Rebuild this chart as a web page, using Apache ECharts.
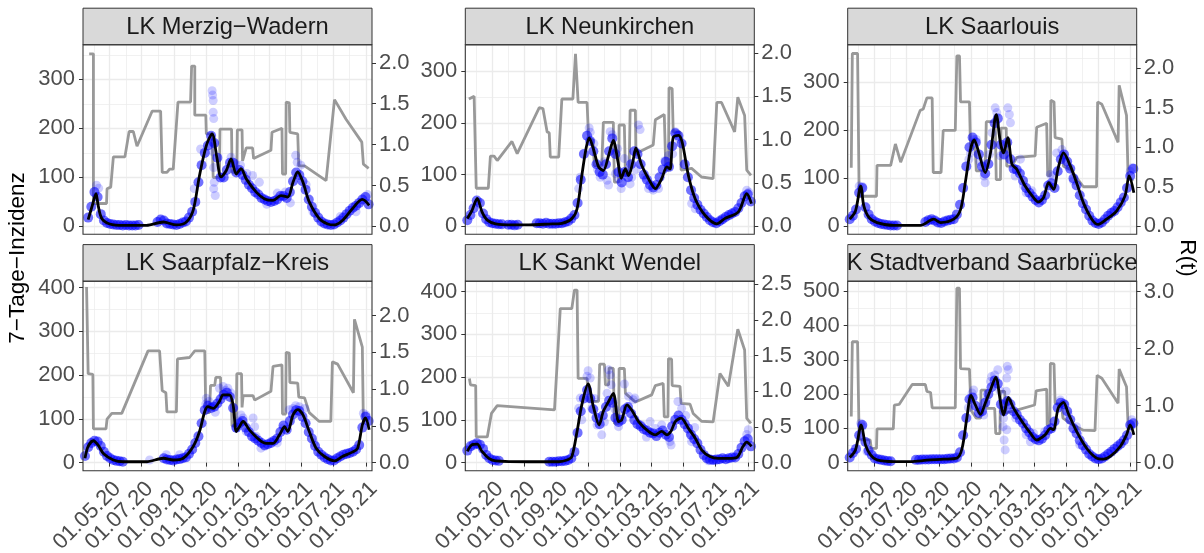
<!DOCTYPE html>
<html>
<head>
<meta charset="utf-8">
<script src="https://cdn.jsdelivr.net/npm/echarts@6.0.0/dist/echarts.min.js"></script>
<style>
  html, body { margin: 0; padding: 0; background: #fff; }
  #chart { width: 1204px; height: 553px; }
</style>
</head>
<body>
<div id="chart"></div>
<script>
// x positions are days since 01.03.2020
const xTickDays = [61, 122, 184, 245, 306, 365, 426, 487, 549];
const xTickLabels = ['01.05.20', '01.07.20', '01.09.20', '01.11.20', '01.01.21', '01.03.21', '01.05.21', '01.07.21', '01.09.21'];
const xMinorDays = [31, 92, 153, 214, 275, 337, 396, 457, 518];

const facetNames = ['LK Merzig−Wadern', 'LK Neunkirchen', 'LK Saarlouis',
  'LK Saarpfalz−Kreis', 'LK Sankt Wendel', 'LK Stadtverband Saarbrücken'];

const yTicks = [[0, 100, 200, 300], [0, 100, 200, 300], [0, 100, 200, 300],
  [0, 100, 200, 300, 400], [0, 100, 200, 300, 400], [0, 100, 200, 300, 400, 500]];
const yMinor = [[50, 150, 250, 350], [50, 150, 250, 350], [50, 150, 250, 350],
  [50, 150, 250, 350], [50, 150, 250, 350], [50, 150, 250, 350, 450]];
const rTicks = [[0, 0.5, 1, 1.5, 2], [0, 0.5, 1, 1.5, 2], [0, 0.5, 1, 1.5, 2],
  [0, 0.5, 1, 1.5, 2], [0, 0.5, 1, 1.5, 2, 2.5], [0, 1, 2, 3]];

// 7-Tage-Inzidenz read every 6 days (null = no point drawn)
const mzwStart = 20;
const mzwPts = [18,40,70,60,25,12,7,5,4,3,3,2,3,2,2,2,3,null,null,null,null,null,9,14,12,6,5,4,3,5,8,10,18,30,50,90,125,150,165,185,170,140,100,100,115,130,130,110,115,105,95,85,78,70,65,58,55,52,50,52,55,62,62,58,70,92,110,105,92,75,55,40,28,18,10,6,4,3,4,8,12,18,25,32,38,42,48,55,60,45];
const mzwOut = [[256,277],[257,268],[258,257],[258,233],[259,220],[257,172],[258,152],[259,120],[260,90],[259,77],[262,63],[234,158],[222,77],[292,141],[333,104],[346,90],[415,145],[418,131],[36,84],[40,78],[300,128],[310,125],[322,108],[360,45],[380,68],[395,70],[405,48],[425,125],[435,85],[448,30],[500,20],[530,30],[552,65]];
const mzwFit = [[20,14],[28,43],[35,67],[39,43],[46,16],[61,5],[87,2],[131,2],[163,9],[188,3],[207,9],[220,33],[232,104],[245,165],[256,189],[265,141],[273,101],[283,114],[292,138],[302,107],[311,118],[321,97],[340,70],[356,56],[372,53],[387,63],[400,60],[410,90],[419,111],[429,90],[441,50],[460,16],[476,5],[489,3],[504,12],[523,36],[542,55],[555,43]];
const mzwR = [[22,2.11],[30,2.11],[30,0.28],[55,0.28],[56,0.46],[63,0.48],[68,0.85],[90,0.85],[98,1.16],[106,1.16],[113,0.98],[142,1.41],[158,1.41],[161,0.66],[170,0.66],[175,0.70],[182,0.70],[191,1.52],[215,1.52],[217,1.96],[223,1.96],[223,1.36],[244,1.36],[245,1.13],[256,1.13],[258,0.60],[270,0.60],[271,1.19],[293,1.19],[294,0.66],[303,0.66],[304,1.18],[313,1.18],[314,0.80],[321,0.96],[333,0.96],[335,0.83],[368,0.93],[370,1.15],[389,1.20],[390,0.64],[396,0.64],[397,1.52],[403,1.51],[404,1.15],[419,1.13],[421,0.74],[432,0.74],[473,0.56],[476,0.56],[489,1.55],[511,1.31],[541,1.03],[544,0.76],[554,0.71]];

const nkStart = 14;
const nkPts = [12,22,35,50,45,25,14,8,6,5,4,4,null,3,3,2,3,null,null,null,null,null,6,6,5,7,5,5,5,6,6,8,10,15,22,45,90,140,175,165,145,120,105,100,120,145,170,140,105,85,105,95,120,145,140,120,100,90,80,75,80,95,110,125,115,155,180,175,160,120,95,70,55,42,32,25,18,12,8,6,10,14,18,22,25,28,35,45,58,62,48];
const nkOut = [[246,190],[248,182],[286,183],[290,177],[340,196],[343,187],[410,183],[417,169],[229,95],[226,73],[267,95],[280,89],[283,80],[307,73],[313,131],[324,82],[327,95],[359,73],[368,70],[378,73],[296,102],[302,92],[390,127],[397,137],[441,44],[448,34],[498,12],[514,21],[546,70],[550,66],[255,160],[262,110],[275,125],[300,150],[335,110],[352,95],[405,140]];
const nkFit = [[14,15],[23,31],[33,54],[42,28],[52,12],[68,5],[99,3],[131,3],[169,4.5],[194,6],[213,15],[223,34],[232,98],[240,150],[246,171],[254,150],[264,115],[273,108],[283,137],[292,166],[301,124],[307,93],[315,111],[321,98],[329,124],[335,151],[346,118],[359,92],[372,73],[384,92],[394,115],[400,111],[406,172],[416,176],[423,163],[435,98],[448,53],[467,21],[489,5],[504,15],[530,28],[546,63],[555,44]];
const nkR = [[17,1.47],[27,1.50],[30,1.50],[31,0.44],[54,0.44],[58,0.81],[65,0.81],[71,0.76],[99,0.98],[109,0.84],[151,1.37],[158,1.36],[166,1.09],[170,1.08],[172,0.80],[188,0.80],[194,1.47],[215,1.47],[220,1.99],[223,1.99],[225,1.43],[242,1.43],[245,1.01],[253,1.00],[256,0.70],[270,0.70],[273,1.20],[292,1.20],[294,0.51],[302,0.51],[303,1.17],[313,1.17],[315,0.59],[322,0.59],[324,1.34],[334,1.34],[335,0.84],[368,0.94],[372,1.23],[389,1.29],[392,0.65],[397,0.65],[398,1.60],[404,1.59],[406,1.09],[419,1.09],[421,0.65],[441,0.67],[460,0.57],[482,0.55],[489,1.43],[498,1.43],[523,1.09],[529,1.49],[542,1.28],[546,0.65],[554,0.59]];

const slStart = 14;
const slPts = [15,22,35,70,80,40,25,15,10,7,5,4,3,2,2,2,null,null,null,null,null,null,null,null,9,13,15,12,8,7,10,12,14,15,25,45,80,125,165,185,175,150,125,110,130,170,215,225,170,150,175,140,120,118,110,95,80,70,62,55,50,55,65,85,90,80,115,140,150,135,120,100,85,65,48,35,22,12,7,5,8,15,22,28,32,40,50,60,80,105,120];
const slOut = [[291,247],[294,237],[315,247],[318,233],[320,216],[285,195],[301,147],[272,91],[270,105],[250,181],[255,181],[339,140],[329,105],[350,70],[361,74],[408,153],[418,160],[421,147],[552,122],[548,115],[32,84],[38,83],[244,153],[241,140],[396,108],[401,105],[262,135],[280,150],[310,160],[345,85],[430,125],[440,95]];
const slFit = [[14,15],[25,32],[35,84],[41,42],[51,18],[66,8],[98,2],[149,2],[174,15],[187,8],[212,15],[225,35],[234,91],[244,160],[251,180],[260,153],[272,112],[282,153],[293,233],[301,174],[307,153],[315,185],[323,129],[332,119],[348,84],[364,60],[373,51],[383,60],[393,91],[402,77],[411,122],[421,153],[434,126],[446,91],[459,49],[475,15],[487,4],[503,15],[522,32],[538,63],[546,105],[555,70]];
const slR = [[17,0.74],[19,2.18],[29,2.18],[32,0.38],[65,0.38],[66,0.77],[92,0.77],[101,1.04],[111,0.81],[148,1.46],[154,1.48],[161,1.62],[171,1.62],[173,0.68],[188,0.68],[192,1.21],[215,1.21],[218,2.15],[223,2.15],[225,1.57],[242,1.57],[244,1.00],[253,0.98],[255,0.70],[272,0.70],[274,1.32],[291,1.32],[293,0.59],[301,0.59],[302,1.24],[312,1.24],[313,0.76],[323,0.76],[332,0.87],[367,0.89],[370,1.25],[389,1.30],[391,0.64],[396,0.64],[397,1.59],[403,1.57],[405,1.12],[418,1.10],[421,0.76],[434,0.72],[459,0.50],[484,0.50],[486,1.57],[494,1.54],[525,1.06],[527,1.78],[541,1.40],[544,0.64],[553,0.57]];

const spkStart = 14;
const spkPts = [15,35,45,50,48,38,25,15,10,6,4,3,2,null,null,null,null,null,null,null,null,null,null,null,null,10,7,6,5,7,8,10,12,20,30,45,60,90,120,130,125,128,135,145,155,160,150,125,80,90,95,80,70,60,55,50,45,40,42,45,50,55,70,85,75,95,110,120,118,105,90,70,55,38,25,18,12,8,5,5,10,14,18,20,22,25,30,40,80,105,95];
const spkOut = [[245,147],[244,134],[270,170],[277,174],[286,170],[292,159],[302,79],[311,109],[315,102],[321,71],[334,102],[337,82],[349,33],[356,37],[368,48],[391,79],[403,121],[410,124],[422,128],[432,124],[544,113],[549,109],[137,6],[169,18],[194,18],[250,140],[262,115],[282,165],[306,95],[340,60],[380,45],[415,130],[450,45]];
const spkFit = [[14,10],[20,37],[30,50],[39,40],[49,21],[68,6],[87,2],[131,2],[163,10],[182,6],[201,10],[220,37],[232,71],[242,117],[248,128],[258,124],[270,140],[277,155],[289,155],[296,132],[302,71],[308,82],[315,94],[327,75],[346,52],[359,44],[372,44],[384,63],[394,82],[400,71],[410,109],[419,121],[429,109],[441,71],[454,33],[470,14],[489,4],[504,14],[523,24],[533,33],[542,86],[548,102],[555,75]];
const spkR = [[17,2.39],[20,1.21],[29,1.20],[30,0.46],[54,0.46],[56,0.59],[65,0.67],[84,0.67],[134,1.52],[156,1.52],[161,0.98],[168,0.95],[170,0.69],[188,0.69],[190,1.41],[213,1.43],[223,1.52],[242,1.52],[244,0.68],[251,0.68],[253,1.05],[261,1.05],[263,1.16],[272,1.16],[273,0.91],[292,0.91],[294,0.50],[302,0.50],[303,1.21],[312,1.21],[313,0.75],[315,0.91],[334,0.91],[337,0.85],[368,0.97],[372,1.31],[389,1.33],[390,0.66],[396,0.66],[397,1.50],[403,1.49],[404,1.09],[419,1.08],[421,0.89],[432,0.88],[441,0.68],[460,0.56],[482,0.56],[485,1.37],[495,1.34],[525,0.95],[527,1.95],[542,1.57],[544,0.52]];

const wndStart = 14;
const wndPts = [28,38,42,45,42,32,18,10,6,5,4,null,null,null,null,null,null,null,null,null,null,null,null,null,null,null,2,2,2,3,3,4,6,10,25,70,120,150,170,150,125,105,90,110,130,145,140,105,95,100,125,130,115,100,90,85,78,75,70,68,62,70,75,65,60,85,100,110,100,90,80,65,55,45,30,18,10,7,6,7,8,10,8,10,12,12,20,35,50,55,38];
const wndOut = [[244,215],[242,202],[248,198],[283,217],[286,205],[288,182],[313,184],[280,162],[270,65],[261,88],[251,127],[229,151],[226,127],[302,84],[321,155],[330,147],[333,151],[346,88],[362,96],[384,88],[400,49],[402,41],[415,143],[422,127],[438,69],[447,82],[441,49],[549,77],[546,66],[473,4],[232,100],[256,150],[275,95],[295,125],[310,110],[355,60],[372,80],[430,110]];
const wndFit = [[14,26],[22,41],[33,43],[42,26],[55,10],[68,4],[131,2],[188,2],[204,6],[213,14],[223,73],[232,135],[244,184],[254,131],[265,88],[273,120],[283,143],[292,162],[302,96],[308,100],[318,135],[327,123],[340,96],[359,73],[372,65],[384,73],[394,65],[402,74],[410,96],[421,104],[435,80],[448,57],[460,30],[476,14],[492,10],[511,10],[527,12],[539,38],[546,48],[555,38]];
const wndR = [[18,1.18],[20,1.09],[30,1.08],[31,0.36],[52,0.36],[60,0.69],[65,0.74],[71,0.80],[180,0.74],[191,2.16],[213,2.16],[218,2.42],[223,2.42],[225,1.18],[242,1.18],[245,0.86],[264,0.86],[266,1.38],[275,1.38],[277,1.09],[283,1.09],[284,1.33],[292,1.32],[294,0.55],[302,0.55],[303,1.32],[313,1.32],[315,0.97],[334,0.85],[365,0.95],[372,1.08],[387,1.11],[389,0.64],[396,0.64],[397,1.46],[403,1.45],[404,1.08],[419,1.07],[421,0.83],[438,0.82],[444,0.69],[460,0.58],[482,0.57],[495,1.25],[511,1.07],[529,1.87],[542,1.58],[546,0.62],[554,0.55]];

const sbStart = 14;
const sbPts = [15,28,40,80,110,60,35,22,12,10,8,6,5,4,null,null,null,null,null,null,null,8,8,9,9,9,10,10,10,10,10,11,12,12,15,30,80,130,185,190,165,145,150,175,200,220,240,230,170,150,180,170,150,140,125,115,100,88,75,68,65,70,80,95,100,120,160,175,170,150,125,100,85,65,50,38,25,18,12,10,12,18,25,32,40,48,55,65,80,110,115];
const sbOut = [[314,281],[316,271],[313,247],[312,208],[310,173],[307,130],[306,105],[308,66],[310,37],[313,96],[296,271],[290,256],[284,251],[282,237],[250,212],[247,203],[263,154],[269,139],[350,81],[364,86],[358,61],[415,183],[424,169],[446,105],[452,52],[551,125],[549,105],[35,115],[38,105],[47,32],[240,160],[275,185],[300,210],[330,130],[385,90],[430,140]];
const sbFit = [[14,15],[25,37],[36,110],[44,52],[54,22],[66,8],[98,3],[130,3],[161,7],[193,10],[218,13],[228,42],[237,130],[245,196],[253,169],[263,141],[272,173],[282,212],[292,249],[301,178],[307,139],[316,190],[326,159],[342,120],[358,86],[370,66],[386,81],[396,100],[402,96],[411,159],[421,176],[430,144],[446,91],[465,42],[484,13],[497,10],[510,18],[529,47],[541,81],[548,110],[555,81]];
const sbR = [[17,0.81],[19,2.12],[29,2.12],[32,0.40],[53,0.40],[55,0.25],[65,0.25],[66,0.59],[97,0.59],[99,1.01],[108,1.02],[133,1.37],[158,1.37],[161,1.25],[168,1.23],[171,0.96],[215,0.96],[218,3.06],[223,3.06],[225,1.65],[242,1.64],[245,0.92],[255,0.78],[263,0.78],[264,1.27],[274,1.27],[275,0.95],[290,0.95],[292,0.51],[300,0.51],[301,1.25],[309,1.25],[311,0.87],[332,0.92],[366,1.01],[369,1.26],[389,1.29],[390,0.66],[395,0.66],[396,1.74],[403,1.73],[405,1.04],[417,1.02],[420,0.78],[439,0.66],[458,0.57],[481,0.56],[485,1.53],[494,1.48],[525,1.04],[527,1.64],[541,1.33],[544,0.66],[553,0.60]];

// layout
const FONT = '"Liberation Sans", Arial, Helvetica, sans-serif';
const X_MIN = 10.2, X_MAX = 560.4;
const colLeft = [83, 465.3, 847.7];
const rowTop = [44.8, 281.2];
const panelW = 289, panelH = 189.5, stripH = 36.6;
const yRanges = [[-16.1, 370.6], [-15.3, 350.8], [-16.5, 378.3], [-18.5, 414.8], [-19.0, 424.5], [-23.6, 529.5]];
const rRanges = [[-0.0966, 2.220], [-0.0911, 2.095], [-0.0996, 2.290], [-0.110, 2.468], [-0.1136, 2.544], [-0.142, 3.182]];

const facets = [
  { start: mzwStart, pts: mzwPts, out: mzwOut, fit: mzwFit, r: mzwR },
  { start: nkStart, pts: nkPts, out: nkOut, fit: nkFit, r: nkR },
  { start: slStart, pts: slPts, out: slOut, fit: slFit, r: slR },
  { start: spkStart, pts: spkPts, out: spkOut, fit: spkFit, r: spkR },
  { start: wndStart, pts: wndPts, out: wndOut, fit: wndFit, r: wndR },
  { start: sbStart, pts: sbPts, out: sbOut, fit: sbFit, r: sbR }
];

const tickLine = { color: '#333333', width: 1 };
const labelStyle = { fontSize: 22, color: '#4d4d4d', fontFamily: FONT };

const grids = [], xAxes = [], yAxes = [], series = [], graphics = [];

facets.forEach(function (f, i) {
  const col = i % 3, row = Math.floor(i / 3);
  const left = colLeft[col], top = rowTop[row];
  const bottomRow = row === 1;

  grids.push({ left: left, top: top, width: panelW, height: panelH, show: false, outerBoundsMode: 'none', containLabel: false });

  // x: major (labelled) and minor gridlines
  xAxes.push({
    type: 'value', gridIndex: i, min: X_MIN, max: X_MAX, position: 'bottom',
    axisLine: { show: false },
    axisTick: { show: bottomRow, customValues: xTickDays, length: 4, lineStyle: tickLine },
    axisLabel: Object.assign({
      show: bottomRow, customValues: xTickDays, rotate: 45, align: 'right', verticalAlign: 'top', margin: 7,
      formatter: function (v) { return xTickLabels[xTickDays.indexOf(Math.round(v))]; }
    }, labelStyle),
    splitLine: { show: true, lineStyle: { color: '#ebebeb', width: 1.3 } }
  });
  xAxes.push({
    type: 'value', gridIndex: i, min: X_MIN, max: X_MAX, position: 'top',
    axisLine: { show: false },
    axisTick: { show: false, customValues: xMinorDays },
    axisLabel: { show: false },
    splitLine: { show: true, lineStyle: { color: '#ebebeb', width: 0.7 } }
  });

  // y: left incidence, right R(t), hidden minor gridlines
  yAxes.push({
    type: 'value', gridIndex: i, position: 'left', min: yRanges[i][0], max: yRanges[i][1],
    axisLine: { show: false },
    axisTick: { show: true, customValues: yTicks[i], length: 4, lineStyle: tickLine },
    axisLabel: Object.assign({ customValues: yTicks[i], margin: 8 }, labelStyle),
    splitLine: { show: true, lineStyle: { color: '#ebebeb', width: 1.3 } }
  });
  yAxes.push({
    type: 'value', gridIndex: i, position: 'right', min: rRanges[i][0], max: rRanges[i][1],
    axisLine: { show: false },
    axisTick: { show: true, customValues: rTicks[i], length: 4, lineStyle: tickLine },
    axisLabel: Object.assign({ customValues: rTicks[i], margin: 7, formatter: function (v) { return v.toFixed(1); } }, labelStyle),
    splitLine: { show: false }
  });
  yAxes.push({
    type: 'value', gridIndex: i, position: 'left', min: yRanges[i][0], max: yRanges[i][1],
    axisLine: { show: false },
    axisTick: { show: false, customValues: yMinor[i] },
    axisLabel: { show: false },
    splitLine: { show: true, lineStyle: { color: '#ebebeb', width: 0.7 } }
  });

  const band = [];
  f.pts.forEach(function (v, k) { if (v !== null) band.push([f.start + 6 * k, v]); });

  series.push({
    type: 'line', xAxisIndex: 2 * i, yAxisIndex: 3 * i + 1, data: f.r, showSymbol: false, silent: true,
    lineStyle: { color: '#999999', width: 2.8 }, z: 2
  });
  series.push({
    type: 'scatter', xAxisIndex: 2 * i, yAxisIndex: 3 * i, data: band, symbolSize: 10, silent: true,
    itemStyle: { color: 'rgba(0,0,255,0.7)' }, z: 3
  });
  series.push({
    type: 'scatter', xAxisIndex: 2 * i, yAxisIndex: 3 * i, data: f.out, symbolSize: 9, silent: true,
    itemStyle: { color: 'rgba(0,0,255,0.24)' }, z: 3
  });
  series.push({
    type: 'line', xAxisIndex: 2 * i, yAxisIndex: 3 * i, data: f.fit, showSymbol: false, smooth: 0.3, silent: true,
    lineStyle: { color: '#000000', width: 2.8 }, z: 4
  });

  // strip + panel border
  graphics.push({
    type: 'rect', shape: { x: left, y: top - stripH, width: panelW, height: stripH },
    style: { fill: '#d9d9d9', stroke: '#333333', lineWidth: 1 }, z: 50
  });
  graphics.push({
    type: 'text', x: left + panelW / 2, y: top - stripH / 2 + 1,
    style: { text: facetNames[i], font: '23.7px ' + FONT, fill: '#1a1a1a', align: 'center', verticalAlign: 'middle' }, z: 51
  });
  graphics.push({
    type: 'rect', shape: { x: left, y: top, width: panelW, height: panelH },
    style: { fill: 'none', stroke: '#333333', lineWidth: 1.1 }, z: 60
  });
});

// strip text of the last panel is clipped by its strip
graphics.push({ type: 'rect', shape: { x: 815, y: rowTop[1] - stripH - 2, width: colLeft[2] - 815 - 0.5, height: stripH + 2 }, style: { fill: '#ffffff' }, z: 52 });
graphics.push({ type: 'rect', shape: { x: colLeft[2] + panelW + 0.5, y: rowTop[1] - stripH - 2, width: 25, height: stripH + 2 }, style: { fill: '#ffffff' }, z: 52 });

// axis titles
graphics.push({
  type: 'text', x: 18, y: 258, rotation: Math.PI / 2,
  style: { text: '7−Tage−Inzidenz', font: '22.5px ' + FONT, fill: '#000000', align: 'center', verticalAlign: 'middle' }, z: 70
});
graphics.push({
  type: 'text', x: 1187, y: 258, rotation: -Math.PI / 2,
  style: { text: 'R(t)', font: '22.5px ' + FONT, fill: '#000000', align: 'center', verticalAlign: 'middle' }, z: 70
});

const chart = echarts.init(document.getElementById('chart'), null, { renderer: 'canvas' });
chart.setOption({
  animation: false,
  backgroundColor: '#ffffff',
  textStyle: { fontFamily: FONT },
  grid: grids,
  xAxis: xAxes,
  yAxis: yAxes,
  series: series,
  graphic: graphics
});
</script>
</body>
</html>
